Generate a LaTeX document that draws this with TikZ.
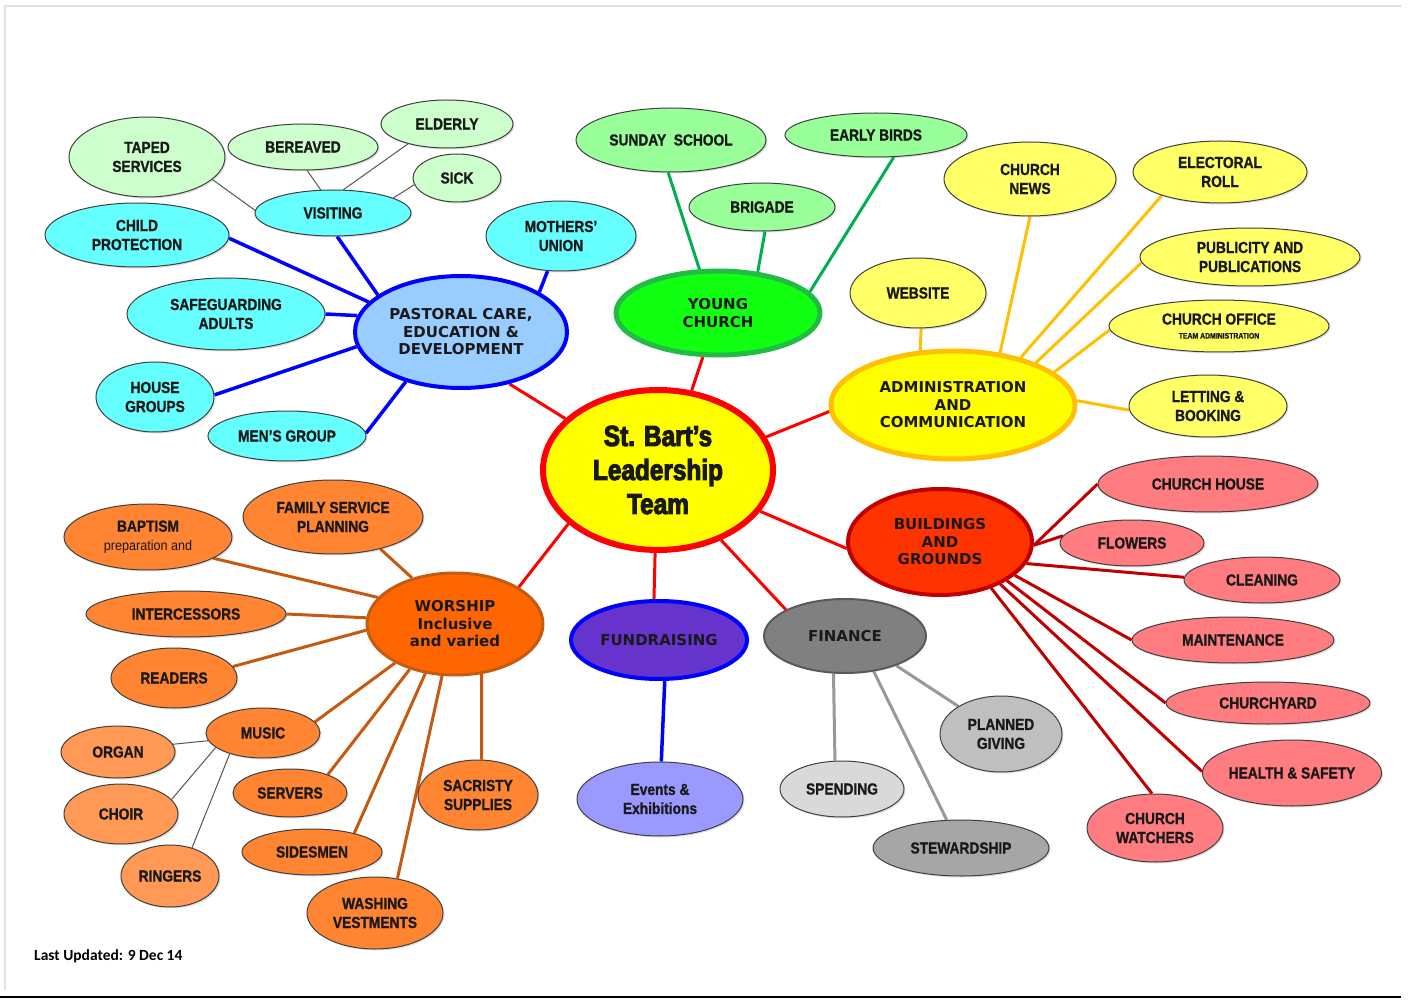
\documentclass[tikz,border=0pt]{standalone}
\usepackage{fontspec}
\setmainfont{Liberation Sans}
\newfontfamily\subf[FakeStretch=0.86,FakeBold=1,UprightFont={* Bold}]{Liberation Sans}
\newfontfamily\subrf[FakeStretch=0.9]{Liberation Sans}
\newfontfamily\catf[UprightFont={* Bold}]{DejaVu Sans}
\newfontfamily\cenf[FakeStretch=0.84,FakeBold=3.5,UprightFont={* Bold}]{Liberation Sans}
\newfontfamily\notef[UprightFont={* Bold}]{Carlito}
\usetikzlibrary{shapes.geometric,shadows}
\pgfdeclarelayer{bg}
\pgfsetlayers{bg,main}
\definecolor{cred}{HTML}{FF0000}
\definecolor{cblue}{HTML}{0000FF}
\definecolor{cpast}{HTML}{99CCFF}
\definecolor{ccyan}{HTML}{66FFFF}
\definecolor{clgreen}{HTML}{CCFFCC}
\definecolor{cyg}{HTML}{11FF11}
\definecolor{cygb}{HTML}{22BB44}
\definecolor{cygsub}{HTML}{99FF99}
\definecolor{cgreenln}{HTML}{00B050}
\definecolor{cgold}{HTML}{FFC000}
\definecolor{cyel}{HTML}{FFFF00}
\definecolor{cysub}{HTML}{FFFF66}
\definecolor{cbg}{HTML}{FF3300}
\definecolor{cdred}{HTML}{C00000}
\definecolor{cbsub}{HTML}{FF7C80}
\definecolor{cwo}{HTML}{FF6600}
\definecolor{cwob}{HTML}{C55A11}
\definecolor{cwsub}{HTML}{FF8533}
\definecolor{cmsub}{HTML}{FF9955}
\definecolor{cwln}{HTML}{C65911}
\definecolor{cpurp}{HTML}{6633CC}
\definecolor{cev}{HTML}{9999FF}
\definecolor{cgln}{HTML}{999999}
\definecolor{cthin}{HTML}{555555}
\tikzset{
  base/.style={ellipse, inner sep=0pt, align=center, text=black!90},
  sub/.style={base, draw=black!75, line width=1pt,
    font=\subf\fontsize{16}{19}\selectfont,
    drop shadow={shadow xshift=1.5pt, shadow yshift=-1.5pt, opacity=0.25}},
  cat/.style={base, font=\catf\fontsize{15}{17.5}\selectfont},
  sz/.style 2 args={minimum width=#1, minimum height=#2},
  ln/.style={line width=3pt},
  thinln/.style={draw=cthin, line width=1pt},
}
\begin{document}
\begin{tikzpicture}[x=1pt,y=-1pt]
\useasboundingbox (0,0) rectangle (1409,1000);
\draw[black!12, line width=1.5pt] (5,990) -- (5,6) -- (1401,6);
\draw[black, line width=1.5pt] (0,997) -- (1401,997);

% centre
\node[base, draw=cred, line width=6pt, fill=cyel, sz={230}{160},
  font=\cenf\fontsize{29}{34}\selectfont] (C) at (658,470) {St. Bart’s\\Leadership\\Team};

% categories
\node[cat, draw=cblue, line width=4pt, fill=cpast, sz={212}{112}] (P) at (461,332) {PASTORAL CARE,\\EDUCATION \&\\DEVELOPMENT};
\node[cat, draw=cygb, line width=5pt, fill=cyg, sz={204}{84}] (Y) at (718,313) {YOUNG\\CHURCH};
\node[cat, draw=cgold, line width=5pt, fill=cyel, sz={244}{108}] (A) at (953,405) {ADMINISTRATION\\AND\\COMMUNICATION};
\node[cat, draw=cdred, line width=4pt, fill=cbg, sz={184}{106}] (B) at (940,542) {BUILDINGS\\AND\\GROUNDS};
\node[cat, draw=cwob, line width=3pt, fill=cwo, sz={176}{102}] (WO) at (455,624) {WORSHIP\\Inclusive\\and varied};
\node[cat, draw=cblue, line width=4pt, fill=cpurp, sz={176}{78}] (FU) at (659,640) {FUNDRAISING};
\node[cat, draw=black!65, line width=2pt, fill=black!50, sz={162}{74}] (FI) at (845,636) {FINANCE};

% pastoral subs
\node[sub, fill=ccyan, sz={156}{46}] (V) at (333,213) {VISITING};
\node[sub, fill=ccyan, sz={184}{64}] (CP) at (137,235) {CHILD\\PROTECTION};
\node[sub, fill=ccyan, sz={198}{72}] (SA) at (226,314) {SAFEGUARDING\\ADULTS};
\node[sub, fill=ccyan, sz={118}{70}] (HG) at (155,397) {HOUSE\\GROUPS};
\node[sub, fill=ccyan, sz={158}{50}] (MG) at (287,436) {MEN’S GROUP};
\node[sub, fill=ccyan, sz={150}{70}] (MU) at (561,236) {MOTHERS’\\UNION};
% visiting subs
\node[sub, fill=clgreen, sz={156}{80}] (TS) at (147,157) {TAPED\\SERVICES};
\node[sub, fill=clgreen, sz={150}{46}] (BE) at (303,147) {BEREAVED};
\node[sub, fill=clgreen, sz={132}{48}] (EL) at (447,124) {ELDERLY};
\node[sub, fill=clgreen, sz={88}{48}] (SI) at (457,178) {SICK};

% young church subs
\node[sub, fill=cygsub, sz={190}{64}] (SS) at (671,140) {SUNDAY\ \ SCHOOL};
\node[sub, fill=cygsub, sz={182}{44}] (EB) at (876,135) {EARLY BIRDS};
\node[sub, fill=cygsub, sz={146}{48}] (BR) at (762,207) {BRIGADE};

% admin subs
\node[sub, fill=cysub, sz={172}{74}] (CN) at (1030,179) {CHURCH\\NEWS};
\node[sub, fill=cysub, sz={174}{62}] (ER) at (1220,172) {ELECTORAL\\ROLL};
\node[sub, fill=cysub, sz={220}{58}] (PU) at (1250,257) {PUBLICITY AND\\PUBLICATIONS};
\node[sub, fill=cysub, sz={220}{52}] (CO) at (1219,326) {CHURCH OFFICE\\[-5pt]{\fontsize{8}{9}\selectfont TEAM ADMINISTRATION}};
\node[sub, fill=cysub, sz={158}{62}] (LB) at (1208,406) {LETTING \&\\BOOKING};
\node[sub, fill=cysub, sz={136}{70}] (W) at (918,293) {WEBSITE};

% buildings subs
\node[sub, fill=cbsub, sz={220}{56}] (CH) at (1208,484) {CHURCH HOUSE};
\node[sub, fill=cbsub, sz={144}{46}] (FL) at (1132,543) {FLOWERS};
\node[sub, fill=cbsub, sz={156}{46}] (CL) at (1262,580) {CLEANING};
\node[sub, fill=cbsub, sz={202}{46}] (MA) at (1233,640) {MAINTENANCE};
\node[sub, fill=cbsub, sz={204}{42}] (CY) at (1268,703) {CHURCHYARD};
\node[sub, fill=cbsub, sz={170}{66}] (HS) at (1292,773) {HEALTH \& SAFETY};
\node[sub, fill=cbsub, sz={136}{68}] (CW) at (1155,828) {CHURCH\\WATCHERS};

% worship subs
\node[sub, fill=cwsub, sz={168}{66}] (BA) at (148,537) {BAPTISM\\{\subrf\fontsize{14}{16}\selectfont preparation and}};
\node[sub, fill=cwsub, sz={180}{74}] (FS) at (333,517) {FAMILY SERVICE\\PLANNING};
\node[sub, fill=cwsub, sz={200}{46}] (IN) at (186,614) {INTERCESSORS};
\node[sub, fill=cwsub, sz={126}{60}] (RE) at (174,678) {READERS};
\node[sub, fill=cwsub, sz={114}{50}] (MS) at (263,733) {MUSIC};
\node[sub, fill=cmsub, sz={114}{52}] (OR) at (118,752) {ORGAN};
\node[sub, fill=cmsub, sz={114}{60}] (CI) at (121,814) {CHOIR};
\node[sub, fill=cmsub, sz={98}{62}] (RI) at (170,876) {RINGERS};
\node[sub, fill=cwsub, sz={114}{48}] (SE) at (290,793) {SERVERS};
\node[sub, fill=cwsub, sz={140}{46}] (SD) at (312,852) {SIDESMEN};
\node[sub, fill=cwsub, sz={136}{72}] (WV) at (375,913) {WASHING\\VESTMENTS};
\node[sub, fill=cwsub, sz={120}{70}] (SC) at (478,795) {SACRISTY\\SUPPLIES};

% fundraising / finance subs
\node[sub, fill=cev, sz={166}{74}] (EV) at (660,799) {Events \&\\Exhibitions};
\node[sub, fill=black!25, sz={122}{76}] (PG) at (1001,734) {PLANNED\\GIVING};
\node[sub, fill=black!15, sz={124}{56}] (SP) at (842,789) {SPENDING};
\node[sub, fill=black!35, sz={176}{56}] (ST) at (961,848) {STEWARDSHIP};

\node[font=\notef\fontsize{15.5}{17}\selectfont, anchor=west, inner sep=0pt] (note) at (34,956) {Last Updated: 9 Dec 14};

\begin{pgfonlayer}{bg}
\fill[white] (0,0) rectangle (1409,1000);
% centre links
\draw[cred, ln] (C.151) -- (P.-47);
\draw[cred, ln] (C.67) -- (Y.-109);
\draw[cred, ln] (C.17) -- (A.-177);
\draw[cred, ln] (C.-22) -- (B.-176);
\draw[cred, ln] (C.-48) -- (FI.156);
\draw[cred, ln] (C.-92) -- (FU.97);
\draw[cred, ln] (C.-149) -- (WO.30);
% pastoral
\draw[cblue, line width=3.5pt] (CP.-2) -- (P.162);
\draw[cblue, line width=3.5pt] (SA.0) -- (P.171);
\draw[cblue, line width=3.5pt] (HG.2) -- (P.-172);
\draw[cblue, line width=3.5pt] (MG.2) -- (P.-138);
\draw[cblue, line width=3.5pt] (V.-80) -- (P.156);
\draw[cblue, line width=3.5pt] (MU.-111) -- (P.27);
% visiting
\draw[thinln] (TS.-19) -- (V.178);
\draw[thinln] (BE.-80) -- (V.118);
\draw[thinln] (EL.-153) -- (V.66);
\draw[thinln] (SI.-171) -- (V.14);
% young church
\draw[cgreenln, ln] (SS.-95) -- (Y.113);
\draw[cgreenln, ln] (BR.-83) -- (Y.46);
\draw[cgreenln, ln] (EB.-51) -- (Y.13);
% admin
\draw[cgold, ln] (W.-85) -- (A.121);
\draw[cgold, ln] (CN.-90) -- (A.48);
\draw[cgold, ln] (ER.-158) -- (A.35);
\draw[cgold, ln] (PU.-177) -- (A.27);
\draw[cgold, ln] (CO.-178) -- (A.18);
\draw[cgold, ln] (LB.-177) -- (A.2);
% buildings
\draw[cdred, ln] (CH.180) -- (B.-2);
\draw[cdred, ln] (FL.174) -- (B.-2);
\draw[cdred, ln] (CL.178) -- (B.-14);
\draw[cdred, ln] (MA.180) -- (B.-24);
\draw[cdred, ln] (CY.180) -- (B.-30);
\draw[cdred, ln] (HS.179) -- (B.-35);
\draw[cdred, ln] (CW.95) -- (B.-42);
% worship
\draw[cwln, ln] (FS.-34) -- (WO.133);
\draw[cwln, ln] (BA.-18) -- (WO.161);
\draw[cwln, ln] (IN.0) -- (WO.176);
\draw[cwln, ln] (RE.11) -- (WO.-176);
\draw[cwln, ln] (MS.12) -- (WO.-147);
\draw[cwln, ln] (SE.26) -- (WO.-135);
\draw[cwln, ln] (SD.24) -- (WO.-121);
\draw[cwln, ln] (WV.57) -- (WO.-104);
\draw[cwln, ln] (SC.84) -- (WO.-62);
% music
\draw[thinln] (OR.8) -- (MS.-172);
\draw[thinln] (CI.16) -- (MS.-163);
\draw[thinln] (RI.52) -- (MS.-148);
% fundraising
\draw[cblue, line width=3.5pt] (FU.-82) -- (EV.88);
% finance
\draw[cgln, ln] (PG.147) -- (FI.-30);
\draw[cgln, ln] (SP.104) -- (FI.-107);
\draw[cgln, ln] (ST.117) -- (FI.-51);
\end{pgfonlayer}
\end{tikzpicture}
\end{document}
